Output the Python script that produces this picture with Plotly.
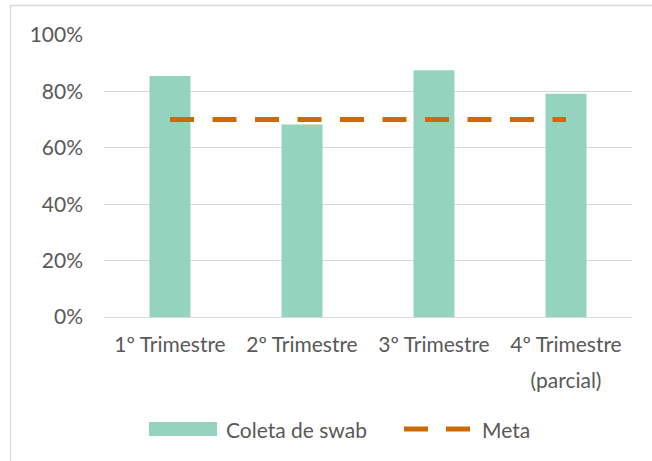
import plotly.graph_objects as go

categories = ["1º Trimestre", "2º Trimestre", "3º Trimestre", "4º Trimestre (parcial)"]
tick_labels = ["1º Trimestre", "2º Trimestre", "3º Trimestre", "4º Trimestre<br>(parcial)"]
coleta_swab = [85.5, 68.3, 87.5, 79.2]
meta = [70, 70, 70, 70]
y_ticks = [0, 20, 40, 60, 80, 100]
y_tick_labels = ["0%", "20%", "40%", "60%", "80%", "100%"]
series_names = ["Coleta de swab", "Meta"]

BAR_COLOR = "#94D3BD"
LINE_COLOR = "#CC6A04"
TEXT_COLOR = "#595959"
GRID_COLOR = "#D9D9D9"
FONT = "Lato"
FS = 21

fig = go.Figure()
fig.add_trace(go.Bar(x=categories, y=coleta_swab, name=series_names[0],
                     marker=dict(color=BAR_COLOR, line=dict(width=0)), width=0.31,
                     showlegend=False))
fig.add_trace(go.Scatter(x=categories, y=meta, name=series_names[1], mode="lines",
                         line=dict(color=LINE_COLOR, width=5, dash="24px,18.5px"),
                         showlegend=False))

# plot area pixel geometry: x 104..632, y 35..317
L, R, T, B = 104, 632, 35, 317
W, H = R - L, B - T
px = lambda x: (x - L) / W
py = lambda y: (B - y) / H

shapes = [
    # chart border (top and left visible)
    dict(type="rect", xref="paper", yref="paper", x0=px(10.5), x1=px(700), y0=py(480), y1=py(5.5),
         line=dict(color=GRID_COLOR, width=1.3), layer="below"),
    # legend swatch
    dict(type="rect", xref="paper", yref="paper", x0=px(149), x1=px(217), y0=py(436), y1=py(422),
         fillcolor=BAR_COLOR, line=dict(width=0)),
    dict(type="line", xref="paper", yref="paper", x0=px(404), x1=px(470), y0=py(429), y1=py(429),
         line=dict(color=LINE_COLOR, width=5, dash="24px,18px")),
]
annotations = [
    dict(text=series_names[0], xref="paper", yref="paper", x=px(224), y=py(429), xanchor="left",
         yanchor="middle", showarrow=False, font=dict(family=FONT, size=FS, color=TEXT_COLOR)),
    dict(text=series_names[1], xref="paper", yref="paper", x=px(480), y=py(429), xanchor="left",
         yanchor="middle", showarrow=False, font=dict(family=FONT, size=FS, color=TEXT_COLOR)),
]

fig.update_layout(
    width=652, height=461,
    margin=dict(l=L, r=652 - R, t=T, b=461 - B, pad=0),
    paper_bgcolor="white", plot_bgcolor="white",
    font=dict(family=FONT, size=FS, color=TEXT_COLOR),
    shapes=shapes, annotations=annotations,
    xaxis=dict(type="category", range=[-0.5, 3.5], showgrid=False, zeroline=False, showline=False,
               tickvals=categories,
               ticktext=[f"<span style='font-size:{FS}px'>{t}</span>".replace("<br>", f"</span><br><span style='font-size:{FS}px'>") for t in tick_labels],
               ticks="", ticklabelstandoff=6, tickfont=dict(family=FONT, size=28, color=TEXT_COLOR)),
    yaxis=dict(range=[0, 100], tickvals=y_ticks, ticktext=y_tick_labels, showgrid=True,
               gridcolor=GRID_COLOR, gridwidth=1.3, zeroline=True, zerolinecolor=GRID_COLOR,
               zerolinewidth=1.3, showline=False, ticks="", ticklabelstandoff=20,
               tickfont=dict(family=FONT, size=FS, color=TEXT_COLOR)),
    showlegend=False,
)

fig.write_html("out.html", config={"displayModeBar": False},
               post_script="document.body.style.margin='0';")
